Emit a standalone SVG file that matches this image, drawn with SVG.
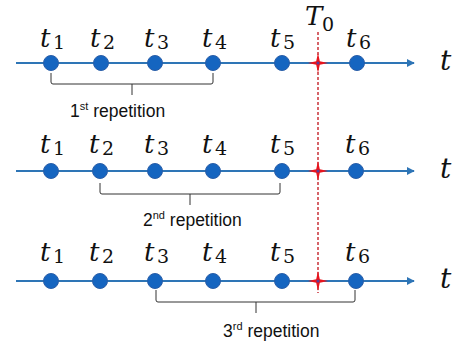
<svg xmlns="http://www.w3.org/2000/svg" width="456" height="347" viewBox="0 0 456 347">
<defs>
<style>
.axis{stroke:#2e75b6;stroke-width:2;fill:none}
.dot{fill:#1565c0;stroke:#2a5ea8;stroke-width:1}
.m{font-family:"DejaVu Serif",serif;font-style:italic;font-size:26px;fill:#111}
.sub{font-family:"DejaVu Serif",serif;font-size:19px;fill:#111}
.brace{stroke:#333;stroke-width:1;fill:none}
.rep{font-family:"Liberation Sans",Arial,sans-serif;font-size:17.5px;fill:#111}
.sup{font-size:11px}
.star{fill:#e8141c}
.t0{stroke:#c0121a;stroke-width:1.3;stroke-dasharray:3 2;fill:none}
</style>
<marker id="ah" viewBox="0 0 10 10" refX="9" refY="5" markerWidth="4" markerHeight="4" orient="auto" markerUnits="strokeWidth">
<path d="M0,0 L10,5 L0,10 z" fill="#2e75b6"/>
</marker>
<g id="starshape"><path class="star" d="M0,-10 L1.8,-1.8 L10,0 L1.8,1.8 L0,10 L-1.8,1.8 L-10,0 L-1.8,-1.8 z"/><circle r="1.5" fill="#5a3a9a"/></g>
</defs>
<g id="connectors">
<line class="axis" x1="16" y1="63" x2="414" y2="63" marker-end="url(#ah)"/>
<line class="axis" x1="16" y1="171" x2="414" y2="171" marker-end="url(#ah)"/>
<line class="axis" x1="16" y1="281" x2="414" y2="281" marker-end="url(#ah)"/>
<line class="t0" x1="318" y1="32" x2="318" y2="293"/>
<path class="brace" d="M51,73 V82 Q51,84 53,84 H211 Q213,84 213,82 V73 M132,84 V95"/>
<path class="brace" d="M100,183 V192 Q100,194 102,194 H278 Q280,194 280,192 V183 M190,194 V205"/>
<path class="brace" d="M156,290 V300 Q156,302 158,302 H353 Q355,302 355,300 V290 M256,302 V313"/>
</g>
<g id="T0"><text class="m" x="305" y="25">T</text><text class="sub" x="322" y="31">0</text></g>
<g id="row1">
<g id="r1t1"><circle class="dot" cx="51" cy="63" r="7.5"/><text class="m" x="40" y="47">t</text><text class="sub" x="53" y="49">1</text></g>
<g id="r1t2"><circle class="dot" cx="101" cy="63" r="7.5"/><text class="m" x="90" y="47">t</text><text class="sub" x="103" y="49">2</text></g>
<g id="r1t3"><circle class="dot" cx="155" cy="63" r="7.5"/><text class="m" x="144" y="47">t</text><text class="sub" x="157" y="49">3</text></g>
<g id="r1t4"><circle class="dot" cx="213" cy="63" r="7.5"/><text class="m" x="202" y="47">t</text><text class="sub" x="215" y="49">4</text></g>
<g id="r1t5"><circle class="dot" cx="282" cy="63" r="7.5"/><text class="m" x="270" y="47">t</text><text class="sub" x="283" y="49">5</text></g>
<g id="r1t6"><circle class="dot" cx="357" cy="63" r="7.5"/><text class="m" x="346" y="47">t</text><text class="sub" x="359" y="49">6</text></g>
<use href="#starshape" x="318" y="63"/>
<text class="m" x="440" y="70" style="font-size:28px">t</text>
<text class="rep" x="70" y="117">1<tspan class="sup" dy="-7">st</tspan><tspan dy="7"> repetition</tspan></text>
</g>
<g id="row2">
<g id="r2t1"><circle class="dot" cx="51" cy="171" r="7.5"/><text class="m" x="40" y="153">t</text><text class="sub" x="53" y="155">1</text></g>
<g id="r2t2"><circle class="dot" cx="100" cy="171" r="7.5"/><text class="m" x="89" y="153">t</text><text class="sub" x="102" y="155">2</text></g>
<g id="r2t3"><circle class="dot" cx="155" cy="171" r="7.5"/><text class="m" x="144" y="153">t</text><text class="sub" x="157" y="155">3</text></g>
<g id="r2t4"><circle class="dot" cx="213" cy="171" r="7.5"/><text class="m" x="202" y="153">t</text><text class="sub" x="215" y="155">4</text></g>
<g id="r2t5"><circle class="dot" cx="282" cy="171" r="7.5"/><text class="m" x="270" y="153">t</text><text class="sub" x="283" y="155">5</text></g>
<g id="r2t6"><circle class="dot" cx="356" cy="171" r="7.5"/><text class="m" x="345" y="153">t</text><text class="sub" x="358" y="155">6</text></g>
<use href="#starshape" x="318" y="171"/>
<text class="m" x="440" y="178" style="font-size:28px">t</text>
<text class="rep" x="143" y="226">2<tspan class="sup" dy="-7">nd</tspan><tspan dy="7"> repetition</tspan></text>
</g>
<g id="row3">
<g id="r3t1"><circle class="dot" cx="51" cy="281" r="7.5"/><text class="m" x="40" y="261">t</text><text class="sub" x="53" y="263">1</text></g>
<g id="r3t2"><circle class="dot" cx="100" cy="281" r="7.5"/><text class="m" x="89" y="261">t</text><text class="sub" x="102" y="263">2</text></g>
<g id="r3t3"><circle class="dot" cx="155" cy="281" r="7.5"/><text class="m" x="144" y="261">t</text><text class="sub" x="157" y="263">3</text></g>
<g id="r3t4"><circle class="dot" cx="213" cy="281" r="7.5"/><text class="m" x="202" y="261">t</text><text class="sub" x="215" y="263">4</text></g>
<g id="r3t5"><circle class="dot" cx="282" cy="281" r="7.5"/><text class="m" x="270" y="261">t</text><text class="sub" x="283" y="263">5</text></g>
<g id="r3t6"><circle class="dot" cx="356" cy="281" r="7.5"/><text class="m" x="345" y="261">t</text><text class="sub" x="358" y="263">6</text></g>
<use href="#starshape" x="318" y="281"/>
<text class="m" x="440" y="288" style="font-size:28px">t</text>
<text class="rep" x="223" y="337">3<tspan class="sup" dy="-7">rd</tspan><tspan dy="7"> repetition</tspan></text>
</g>
</svg>
